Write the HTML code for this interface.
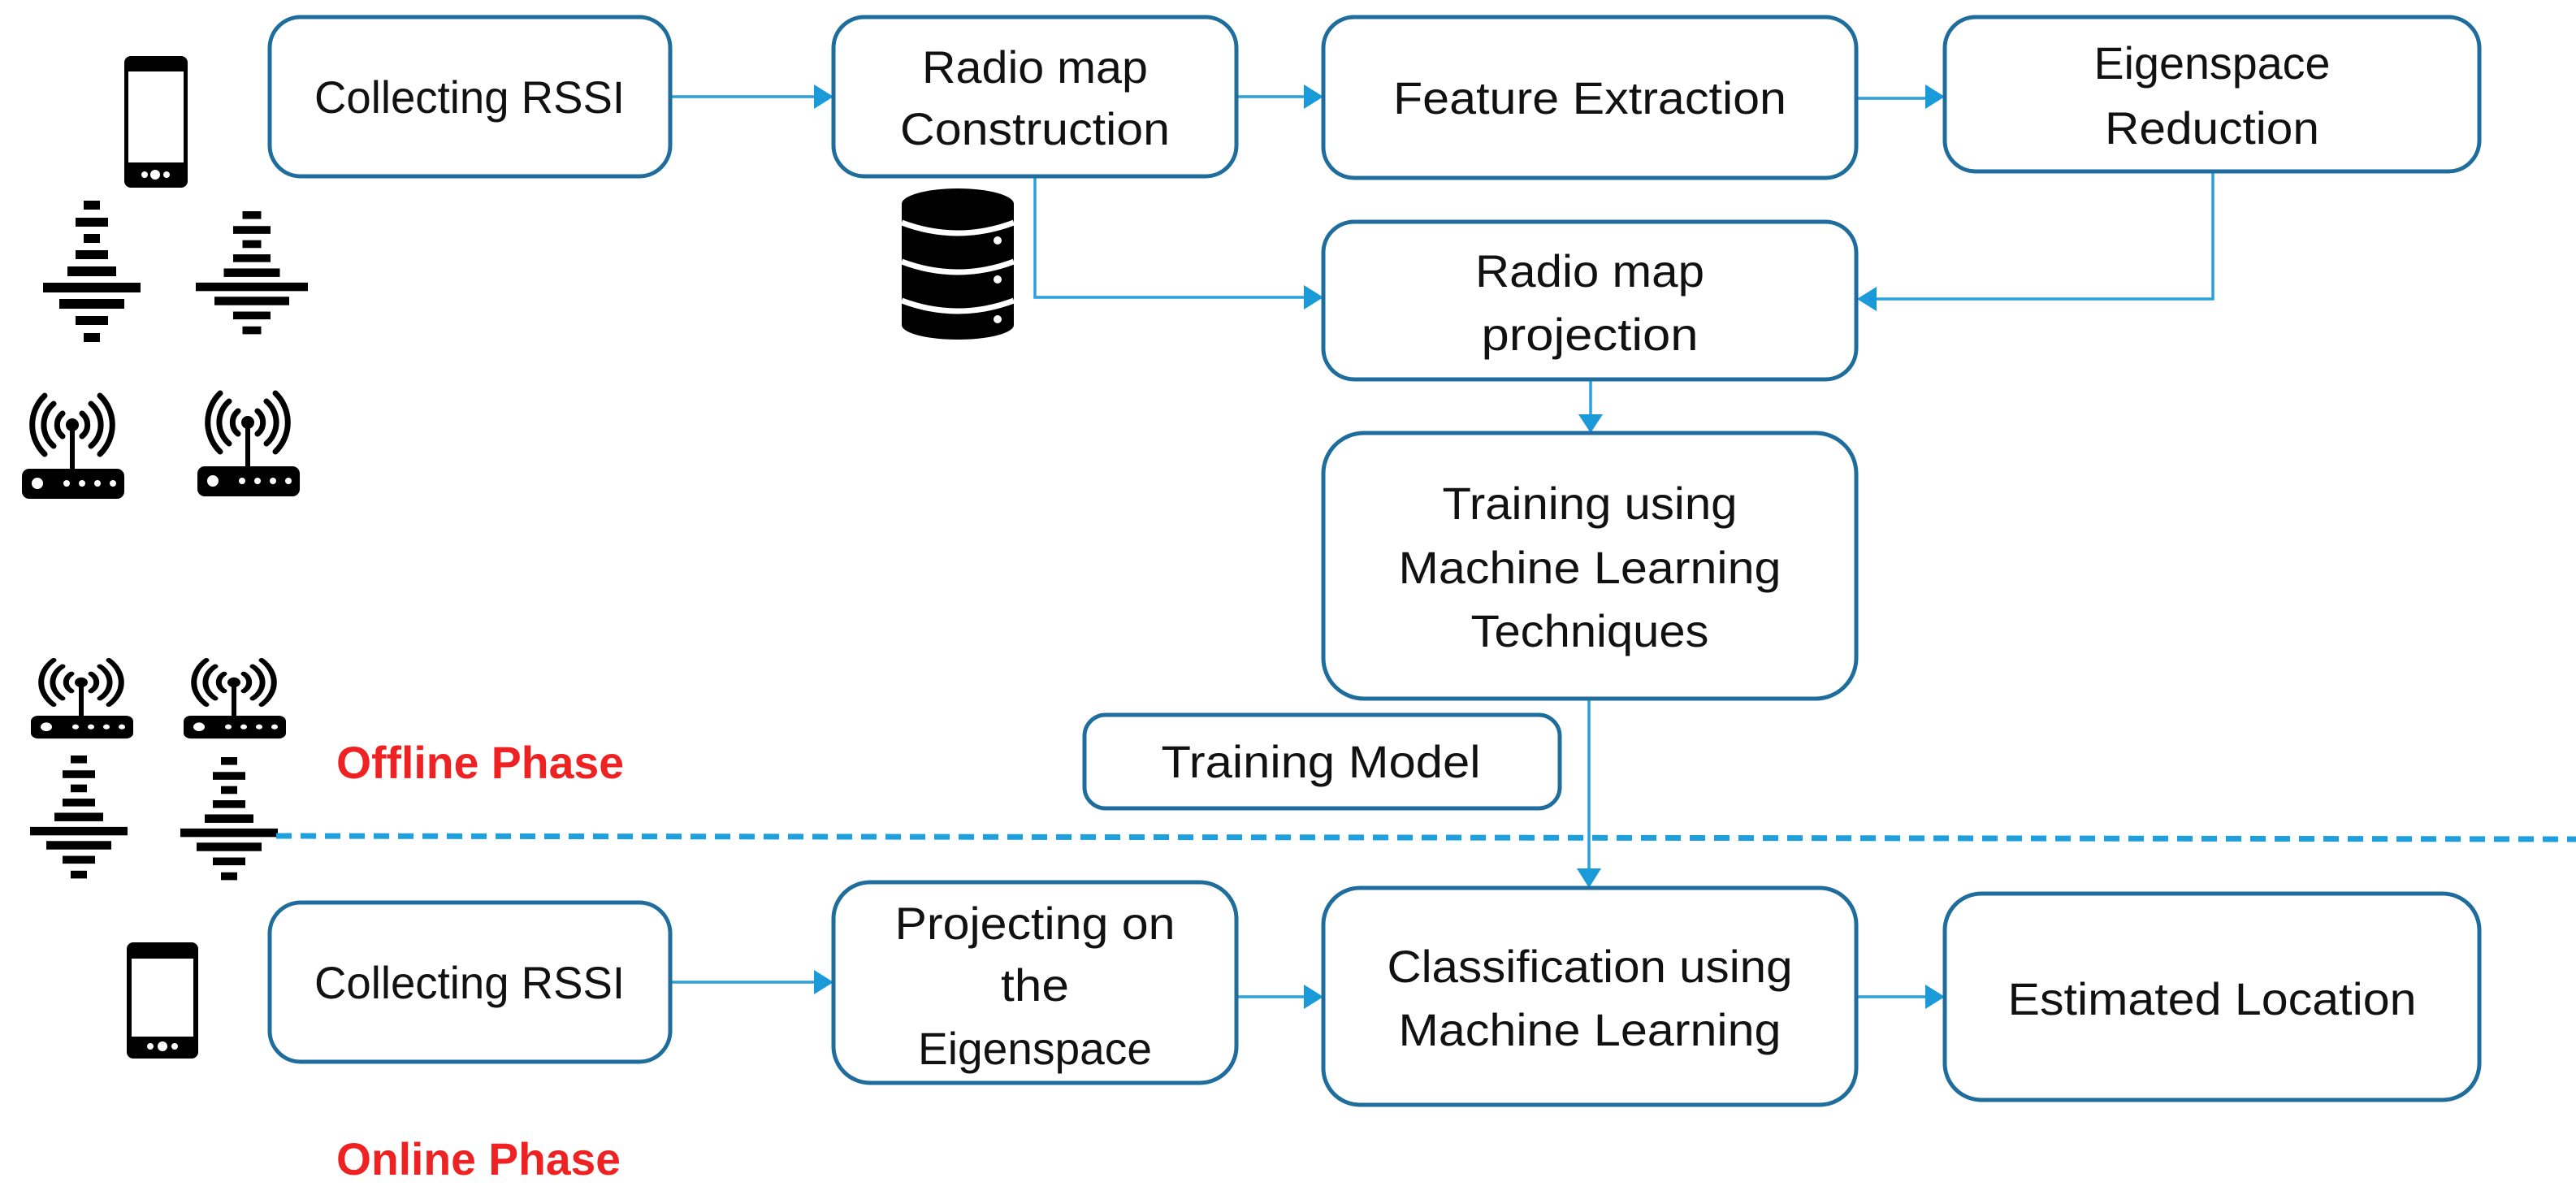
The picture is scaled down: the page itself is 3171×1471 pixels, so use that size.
<!DOCTYPE html>
<html><head><meta charset="utf-8"><style>
html,body{margin:0;padding:0;background:#fff;}
svg{display:block;}
text{font-family:"Liberation Sans",sans-serif;font-size:56px;fill:#111;text-anchor:middle;}
.r{fill:#ee2222;font-weight:bold;}
.box{fill:#fff;stroke:#1f6d9c;stroke-width:5;}
.ln{stroke:#2aa0dc;stroke-width:3.5;fill:none;}
.ah{fill:#1a9ad8;}
</style></head><body>
<svg width="3171" height="1471" viewBox="0 0 3171 1471" xmlns="http://www.w3.org/2000/svg">
<defs>
<g id="sig">
<rect x="-10" y="0" width="20" height="11"/>
<rect x="-20" y="21" width="40" height="11"/>
<rect x="-10" y="41" width="20" height="11"/>
<rect x="-20" y="61" width="40" height="11"/>
<rect x="-30" y="81" width="60" height="12"/>
<rect x="-60" y="101" width="120" height="12"/>
<rect x="-40" y="121" width="80" height="12"/>
<rect x="-20" y="142" width="40" height="11"/>
<rect x="-10" y="163" width="20" height="11"/>
</g>
<g id="rt">
<g fill="none" stroke="#000" stroke-width="7" stroke-linecap="round">
<path d="M -12 -14 A 18 18 0 0 0 -12 14"/><path d="M 12 -14 A 18 18 0 0 1 12 14"/>
<path d="M -23 -26 A 34 34 0 0 0 -23 26"/><path d="M 23 -26 A 34 34 0 0 1 23 26"/>
<path d="M -34 -36 A 50 50 0 0 0 -34 36"/><path d="M 34 -36 A 50 50 0 0 1 34 36"/>
</g>
<circle cx="0" cy="0" r="8"/>
<rect x="-3" y="0" width="6" height="56"/>
<rect x="-62" y="54" width="126" height="37" rx="9"/>
<circle cx="-43" cy="72" r="7" fill="#fff"/>
<circle cx="-7" cy="72" r="4" fill="#fff"/><circle cx="12" cy="72" r="4" fill="#fff"/>
<circle cx="31" cy="72" r="4" fill="#fff"/><circle cx="50" cy="72" r="4" fill="#fff"/>
</g>
</defs>

<!-- phones -->
<g>
<rect x="153" y="69" width="78" height="162" rx="8"/>
<rect x="158" y="88" width="68" height="112" fill="#fff"/>
<circle cx="178" cy="215" r="4" fill="#fff"/><circle cx="191" cy="215" r="6" fill="#fff"/><circle cx="205" cy="215" r="4" fill="#fff"/>
</g>
<g>
<rect x="156" y="1160" width="88" height="143" rx="8"/>
<rect x="162" y="1180" width="76" height="96" fill="#fff"/>
<circle cx="185" cy="1288" r="4" fill="#fff"/><circle cx="200" cy="1288" r="6" fill="#fff"/><circle cx="215" cy="1288" r="4" fill="#fff"/>
</g>

<!-- signals -->
<use href="#sig" x="113" y="247"/>
<use href="#sig" transform="translate(310,260) scale(1.15,0.87)"/>
<use href="#sig" transform="translate(97,930) scale(1,0.87)"/>
<use href="#sig" transform="translate(282,932) scale(1,0.87)"/>

<!-- routers -->
<use href="#rt" x="89" y="523"/>
<use href="#rt" x="305" y="520"/>
<use href="#rt" transform="translate(100,840) scale(1,0.76)"/>
<use href="#rt" transform="translate(288,840) scale(1,0.76)"/>

<!-- database -->
<g>
<rect x="1110" y="250" width="138" height="150"/>
<ellipse cx="1179" cy="400" rx="69" ry="18"/>
<ellipse cx="1179" cy="251" rx="69" ry="19"/>
<path d="M1110 274 Q1179 300 1248 274" stroke="#fff" stroke-width="7" fill="none"/>
<path d="M1110 322 Q1179 348 1248 322" stroke="#fff" stroke-width="7" fill="none"/>
<path d="M1110 370 Q1179 396 1248 370" stroke="#fff" stroke-width="7" fill="none"/>
<circle cx="1228" cy="296" r="5" fill="#fff"/><circle cx="1228" cy="344" r="5" fill="#fff"/><circle cx="1228" cy="393" r="5" fill="#fff"/>
</g>

<!-- dashed line -->
<line x1="340" y1="1029" x2="3171" y2="1033" stroke="#1fa0dc" stroke-width="7" stroke-dasharray="19,11"/>

<!-- connectors -->
<path class="ln" d="M825 119 H1004"/><path class="ah" d="M1026 119 L1002 104 L1002 134 Z"/>
<path class="ln" d="M1522 119 H1607"/><path class="ah" d="M1629 119 L1605 104 L1605 134 Z"/>
<path class="ln" d="M2285 121 H2372"/><path class="ah" d="M2394 119 L2370 104 L2370 134 Z"/>
<path class="ln" d="M1274 217 V366 H1607"/><path class="ah" d="M1629 366 L1605 351 L1605 381 Z"/>
<path class="ln" d="M2724 211 V368 H2308"/><path class="ah" d="M2286 368 L2310 353 L2310 383 Z"/>
<path class="ln" d="M1958 467 V512"/><path class="ah" d="M1958 533 L1943 510 L1973 510 Z"/>
<path class="ln" d="M1956 860 V1070"/><path class="ah" d="M1956 1093 L1941 1069 L1971 1069 Z"/>
<path class="ln" d="M825 1209 H1004"/><path class="ah" d="M1026 1209 L1002 1194 L1002 1224 Z"/>
<path class="ln" d="M1522 1227 H1607"/><path class="ah" d="M1629 1227 L1605 1212 L1605 1242 Z"/>
<path class="ln" d="M2285 1227 H2372"/><path class="ah" d="M2394 1227 L2370 1212 L2370 1242 Z"/>

<!-- boxes -->
<rect class="box" x="332" y="21" width="493" height="196" rx="38"/>
<text x="578" y="139" textLength="382" lengthAdjust="spacingAndGlyphs">Collecting RSSI</text>

<rect class="box" x="1026" y="21" width="496" height="196" rx="38"/>
<text x="1274" y="102" textLength="278" lengthAdjust="spacingAndGlyphs">Radio map</text>
<text x="1274" y="178" textLength="332" lengthAdjust="spacingAndGlyphs">Construction</text>

<rect class="box" x="1629" y="21" width="656" height="198" rx="38"/>
<text x="1957" y="140" textLength="484" lengthAdjust="spacingAndGlyphs">Feature Extraction</text>

<rect class="box" x="2394" y="21" width="658" height="190" rx="38"/>
<text x="2723" y="97" textLength="291" lengthAdjust="spacingAndGlyphs">Eigenspace</text>
<text x="2723" y="177" textLength="264" lengthAdjust="spacingAndGlyphs">Reduction</text>

<rect class="box" x="1629" y="273" width="656" height="194" rx="38"/>
<text x="1957" y="353" textLength="282" lengthAdjust="spacingAndGlyphs">Radio map</text>
<text x="1957" y="431" textLength="267" lengthAdjust="spacingAndGlyphs">projection</text>

<rect class="box" x="1629" y="533" width="656" height="327" rx="50"/>
<text x="1957" y="639" textLength="363" lengthAdjust="spacingAndGlyphs">Training using</text>
<text x="1957" y="718" textLength="471" lengthAdjust="spacingAndGlyphs">Machine Learning</text>
<text x="1957" y="796" textLength="293" lengthAdjust="spacingAndGlyphs">Techniques</text>

<rect class="box" x="1335" y="880" width="585" height="115" rx="26"/>
<text x="1626" y="957" textLength="393" lengthAdjust="spacingAndGlyphs">Training Model</text>

<rect class="box" x="332" y="1111" width="493" height="196" rx="38"/>
<text x="578" y="1229" textLength="382" lengthAdjust="spacingAndGlyphs">Collecting RSSI</text>

<rect class="box" x="1026" y="1086" width="496" height="247" rx="45"/>
<text x="1274" y="1156" textLength="345" lengthAdjust="spacingAndGlyphs">Projecting on</text>
<text x="1274" y="1232" textLength="84" lengthAdjust="spacingAndGlyphs">the</text>
<text x="1274" y="1310" textLength="288" lengthAdjust="spacingAndGlyphs">Eigenspace</text>

<rect class="box" x="1629" y="1093" width="656" height="267" rx="45"/>
<text x="1957" y="1209" textLength="499" lengthAdjust="spacingAndGlyphs">Classification using</text>
<text x="1957" y="1287" textLength="471" lengthAdjust="spacingAndGlyphs">Machine Learning</text>

<rect class="box" x="2394" y="1100" width="658" height="254" rx="45"/>
<text x="2723" y="1249" textLength="503" lengthAdjust="spacingAndGlyphs">Estimated Location</text>

<text class="r" x="591" y="958" textLength="354" lengthAdjust="spacingAndGlyphs">Offline Phase</text>
<text class="r" x="589" y="1446" textLength="350" lengthAdjust="spacingAndGlyphs">Online Phase</text>
</svg>
</body></html>
